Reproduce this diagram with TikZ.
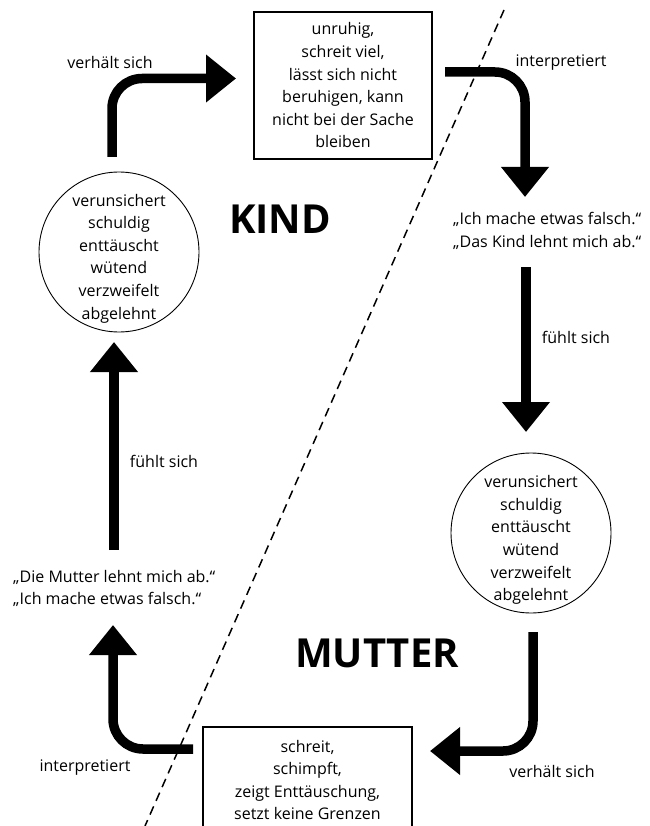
\documentclass[tikz,border=0pt]{standalone}
\usepackage{fontspec}
\setmainfont{Open Sans}
\usetikzlibrary{arrows.meta}
\begin{document}
\begin{tikzpicture}[x=1pt,y=-1pt,
  every node/.style={font=\fontsize{16}{22.6}\selectfont},
  flow/.style={line width=9.5pt,-{Triangle[length=30pt,width=46pt]},rounded corners=30pt},
  txt/.style={align=center,inner sep=0pt},
  qtxt/.style={align=left,inner sep=0pt,anchor=west},
  boxnode/.style={draw,line width=1.1pt,align=center,inner sep=0pt},
  feel/.style={draw,circle,minimum size=160pt,line width=0.9pt,inner sep=0pt},
  bigtitle/.style={inner sep=0pt,font=\fontsize{40}{40}\selectfont\bfseries},
  split/.style={line width=1.5pt,dash pattern=on 9pt off 6pt}]
\useasboundingbox (0,0) rectangle (649,826);
\fill[white] (0,0) rectangle (649,826);

% dashed separator
\coordinate (d1) at (504,10);
\coordinate (d2) at (145,826);
\draw[split] (d1) -- (d2);

% boxes
\node[boxnode,minimum width=178pt,minimum height=147pt] (kb) at (343,85.5)
  {unruhig,\\schreit viel,\\lässt sich nicht\\beruhigen, kann\\nicht bei der Sache\\bleiben};
\node[boxnode,minimum width=209pt,minimum height=106pt] (mb) at (307.5,780)
  {schreit,\\schimpft,\\zeigt Enttäuschung,\\setzt keine Grenzen};

% circles
\node[feel] (lc) at (119,252) {};
\node[txt] (lct) at (119,258.5) {verunsichert\\schuldig\\enttäuscht\\wütend\\verzweifelt\\abgelehnt};
\node[feel] (rc) at (531,533) {};
\node[txt] (rct) at (531,540) {verunsichert\\schuldig\\enttäuscht\\wütend\\verzweifelt\\abgelehnt};

% titles
\node[bigtitle] (kind) at (280,219) {KIND};
\node[bigtitle] (mutter) at (377,653) {MUTTER};

% quotes
\node[qtxt] (qr) at (453,231) {„Ich mache etwas falsch.“\\„Das Kind lehnt mich ab.“};
\node[qtxt] (ql) at (13,588.5) {„Die Mutter lehnt mich ab.“\\„Ich mache etwas falsch.“};

% labels
\node[txt] (l1) at (110,63) {verhält sich};
\node[txt] (l2) at (561,63) {interpretiert};
\node[txt] (l3) at (576,337) {fühlt sich};
\node[txt] (l4) at (552,771) {verhält sich};
\node[txt] (l5) at (85,768) {interpretiert};
\node[txt] (l6) at (164,461) {fühlt sich};

% arrow endpoints
\coordinate (a1s) at (112,157);  \coordinate (a1e) at (236,78.5);
\coordinate (a2s) at (445,72);   \coordinate (a2e) at (525,197);
\coordinate (a3s) at (526,267);  \coordinate (a3e) at (526,432);
\coordinate (a4s) at (533,632);  \coordinate (a4e) at (430,751);
\coordinate (a5s) at (193,749);  \coordinate (a5e) at (113,625);
\coordinate (a6s) at (114,550);  \coordinate (a6e) at (114,342);

\draw[flow] (a1s) |- (a1e);
\draw[flow] (a2s) -| (a2e);
\draw[flow] (a3s) -- (a3e);
\draw[flow] (a4s) |- (a4e);
\draw[flow] (a5s) -| (a5e);
\draw[flow] (a6s) -- (a6e);
\end{tikzpicture}
\end{document}
